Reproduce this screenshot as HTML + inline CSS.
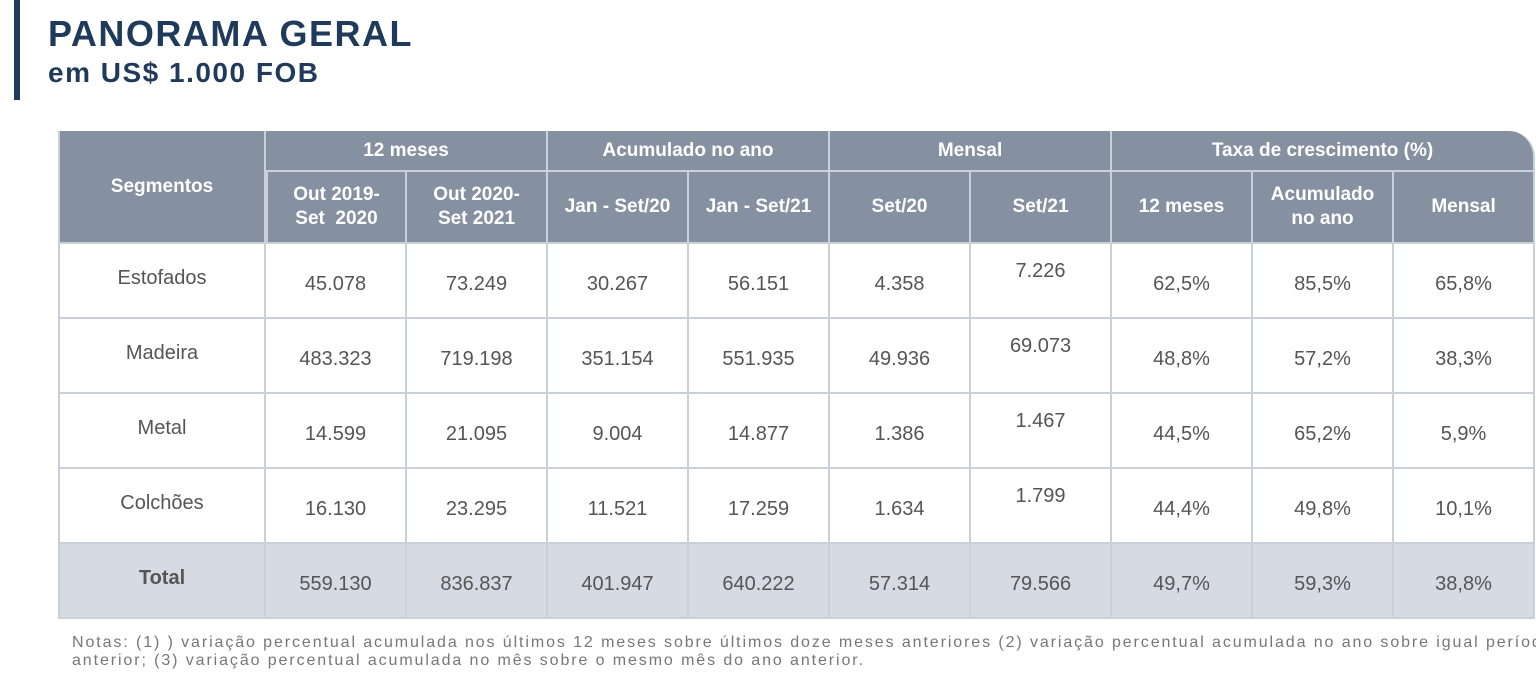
<!DOCTYPE html>
<html><head><meta charset="utf-8"><style>
body{margin:0;width:1536px;height:680px;background:#fff;font-family:"Liberation Sans",sans-serif;position:relative;overflow:hidden}
.bar{position:absolute;left:14px;top:0;width:6px;height:100px;background:#1f3a5a}
.t1{position:absolute;left:48px;top:13px;font-size:36px;font-weight:bold;color:#1f3a5a;letter-spacing:1.5px}
.t2{position:absolute;left:48px;top:57px;font-size:28px;font-weight:bold;color:#1f3a5a;letter-spacing:1.5px}
table{position:absolute;left:58px;top:131px;border-collapse:separate;border-spacing:0;table-layout:fixed;width:1477px}
td,th{border-right:2px solid #c9d0da;border-bottom:2px solid #c9d0da;text-align:center;padding:0}
th{background:#8591a1;color:#fff;font-size:19px;font-weight:bold;line-height:24px}
td{color:#555;font-size:20px;height:75px;padding-top:8px;box-sizing:border-box}
td:first-child,th:first-child{border-left:2px solid #c9d0da}
td.hi{padding-top:0;padding-bottom:18px}
td.seg{padding-top:0;padding-bottom:4px}
tr.tot td{background:#d5dae3}
.notes{position:absolute;left:72px;top:634px;font-size:16px;color:#777;line-height:18px;white-space:nowrap;letter-spacing:1.9px}
</style></head><body>
<div class="bar"></div>
<div class="t1">PANORAMA GERAL</div>
<div class="t2">em US$ 1.000 FOB</div>
<table>
<colgroup><col style="width:208px"><col style="width:141px"><col style="width:141px"><col style="width:141px"><col style="width:141px"><col style="width:141px"><col style="width:141px"><col style="width:141px"><col style="width:141px"><col style="width:141px"></colgroup>
<tr style="height:41px">
<th rowspan="2" style="padding-bottom:0">Segmentos</th>
<th colspan="2">12 meses</th>
<th colspan="2">Acumulado no ano</th>
<th colspan="2">Mensal</th>
<th colspan="3" style="border-top-right-radius:26px">Taxa de crescimento (%)</th>
</tr>
<tr style="height:72px">
<th>Out 2019-<br>Set&nbsp; 2020</th>
<th>Out 2020-<br>Set 2021</th>
<th>Jan - Set/20</th>
<th>Jan - Set/21</th>
<th>Set/20</th>
<th>Set/21</th>
<th>12 meses</th>
<th>Acumulado<br>no ano</th>
<th>Mensal</th>
</tr>
<tr><td class="seg">Estofados</td><td>45.078</td><td>73.249</td><td>30.267</td><td>56.151</td><td>4.358</td><td class="hi">7.226</td><td>62,5%</td><td>85,5%</td><td>65,8%</td></tr>
<tr><td class="seg">Madeira</td><td>483.323</td><td>719.198</td><td>351.154</td><td>551.935</td><td>49.936</td><td class="hi">69.073</td><td>48,8%</td><td>57,2%</td><td>38,3%</td></tr>
<tr><td class="seg">Metal</td><td>14.599</td><td>21.095</td><td>9.004</td><td>14.877</td><td>1.386</td><td class="hi">1.467</td><td>44,5%</td><td>65,2%</td><td>5,9%</td></tr>
<tr><td class="seg">Colchões</td><td>16.130</td><td>23.295</td><td>11.521</td><td>17.259</td><td>1.634</td><td class="hi">1.799</td><td>44,4%</td><td>49,8%</td><td>10,1%</td></tr>
<tr class="tot"><td class="seg" style="font-weight:bold">Total</td><td>559.130</td><td>836.837</td><td>401.947</td><td>640.222</td><td>57.314</td><td>79.566</td><td>49,7%</td><td>59,3%</td><td>38,8%</td></tr>
</table>
<div class="notes">Notas: (1) ) variação percentual acumulada nos últimos 12 meses sobre últimos doze meses anteriores (2) variação percentual acumulada no ano sobre igual período do ano<br>anterior; (3) variação percentual acumulada no mês sobre o mesmo mês do ano anterior.</div>
</body></html>
